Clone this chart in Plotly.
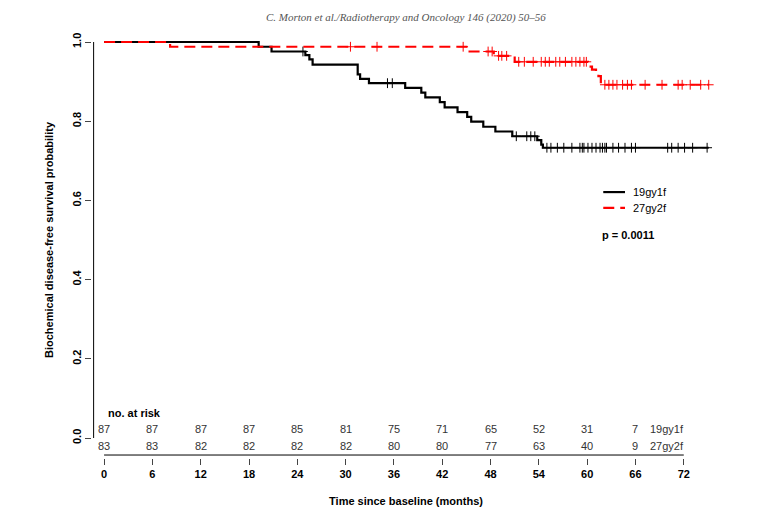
import numpy as np
import plotly.graph_objects as go

# step curves (months, survival)
g1_t = [0, 19.2, 20.8, 25.0, 25.5, 25.9, 31.5, 31.8, 32.9, 37.4, 39.4, 39.9, 41.7, 42.3,
        43.9, 45.1, 45.6, 47.1, 48.6, 50.7, 53.8, 54.3, 54.5]
g1_s = [1.0, 0.988, 0.976, 0.967, 0.956, 0.943, 0.918, 0.907, 0.896, 0.884, 0.872, 0.860,
        0.848, 0.835, 0.823, 0.811, 0.799, 0.786, 0.774, 0.762, 0.752, 0.741, 0.733]
g1_cens = [24.7, 35.2, 35.8, 51.2, 52.5, 53.0, 53.5, 55.0, 55.5, 56.3, 57.1, 58.1, 59.1, 59.4,
           59.6, 60.1, 60.6, 61.1, 61.6, 61.9, 62.2, 62.4, 63.2, 63.9, 64.7, 65.5, 66.0, 70.0,
           70.5, 71.3, 72.1, 73.1, 74.9]
g2_t = [0, 8.2, 45.4, 48.4, 51.0, 60.1, 60.6, 61.1, 61.4, 61.7]
g2_s = [1.0, 0.988, 0.976, 0.965, 0.950, 0.938, 0.930, 0.922, 0.914, 0.892]
g2_cens = [30.6, 33.9, 44.6, 47.7, 48.2, 49.0, 49.4, 50.0, 51.5, 52.2, 53.3, 54.3, 54.8, 55.3,
           56.1, 56.6, 57.3, 58.1, 58.6, 59.1, 59.6, 59.9, 62.2, 62.7, 63.2, 63.7, 64.4, 65.0,
           65.5, 67.2, 69.3, 71.3, 71.8, 72.8, 74.1, 75.1]
t_end = 75.1

risk_times = [0, 6, 12, 18, 24, 30, 36, 42, 48, 54, 60, 66]
risk_g1 = [87, 87, 87, 87, 85, 81, 75, 71, 65, 52, 31, 7]
risk_g2 = [83, 83, 82, 82, 82, 82, 80, 80, 77, 63, 40, 9]
groups = ["19gy1f", "27gy2f"]
x_ticks = list(range(0, 73, 6))
y_ticks = [0.0, 0.2, 0.4, 0.6, 0.8, 1.0]

FONT = "Liberation Sans, Arial, sans-serif"
DASH = "11px,6px"


def surv_at(t, times, surv):
    i = np.searchsorted(times, t, side="right") - 1
    return np.array(surv)[i]


fig = go.Figure()
for t, s, c, col, dash in [(g1_t, g1_s, g1_cens, "black", "solid"),
                           (g2_t, g2_s, g2_cens, "red", DASH)]:
    fig.add_trace(go.Scatter(x=t + [t_end], y=s + [s[-1]], mode="lines", line_shape="hv",
                             line=dict(color=col, width=2.2, dash=dash), hoverinfo="skip"))
    for sym in ["line-ns", "line-ew"]:
        fig.add_trace(go.Scatter(x=c, y=surv_at(c, t, s), mode="markers",
                                 marker=dict(symbol=sym, size=7, line=dict(color=col, width=1))))

ann = []
ann.append(dict(x=0.2, y=0.063, text="<b>no. at risk</b>", xanchor="left", showarrow=False,
                font=dict(size=11, color="black")))
for row_y, vals, name in [(0.023, risk_g1, groups[0]), (-0.020, risk_g2, groups[1])]:
    for t, v in zip(risk_times, vals):
        ann.append(dict(x=t, y=row_y, text=str(v), showarrow=False, font=dict(size=11, color="#333")))
    ann.append(dict(x=67.6, y=row_y, text=name, xanchor="left", showarrow=False,
                    font=dict(size=11, color="#333")))

# legend and p value
for yy, name in [(0.621, groups[0]), (0.581, groups[1])]:
    ann.append(dict(x=65.4, y=yy, text=name, xanchor="left", showarrow=False,
                    font=dict(size=11, color="black")))
ann.append(dict(x=61.6, y=0.513, text="<b>p = 0.0011</b>", xanchor="left", showarrow=False,
                font=dict(size=11, color="black")))
ann.append(dict(x=0.5, y=1.0, xref="paper", yref="paper", yshift=13,
                text="<i>C. Morton et al./Radiotherapy and Oncology 146 (2020) 50–56</i>",
                showarrow=False, font=dict(size=11, color="#555", family="Liberation Serif")))

shapes = [
    dict(type="line", x0=-1.3, x1=-1.3, y0=0, y1=1, line=dict(color="black", width=1)),
    dict(type="line", x0=0, x1=72, y0=-0.043, y1=-0.043, line=dict(color="black", width=1)),
    dict(type="line", x0=62.0, x1=64.7, y0=0.621, y1=0.621, line=dict(color="black", width=2.2)),
    dict(type="line", x0=62.0, x1=64.7, y0=0.581, y1=0.581, line=dict(color="red", width=2.2, dash=DASH)),
]

fig.update_layout(
    width=765, height=515, showlegend=False, plot_bgcolor="white", paper_bgcolor="white",
    margin=dict(l=84, r=53, t=14, b=65), font=dict(family=FONT, color="black"),
    annotations=ann, shapes=shapes,
    xaxis=dict(range=[-1.5, 76.5], tickvals=x_ticks, ticks="outside", ticklen=6, showgrid=False,
               zeroline=False, tickfont=dict(size=11, weight="bold"),
               title=dict(text="<b>Time since baseline (months)</b>", font=dict(size=11), standoff=18)),
    yaxis=dict(range=[-0.0505, 1.0505], tickvals=y_ticks, tickformat=".1f", ticks="outside",
               ticklen=6, showgrid=False, zeroline=False, tickangle=-90,
               tickfont=dict(size=11, weight="bold"),
               title=dict(text="<b>Biochemical disease-free survival probability</b>",
                          font=dict(size=11), standoff=14)),
)
fig.write_html("out.html")
